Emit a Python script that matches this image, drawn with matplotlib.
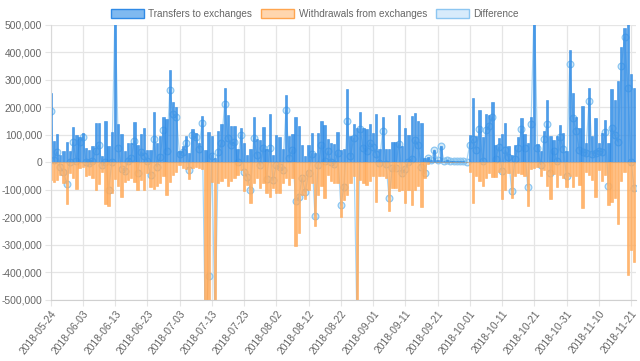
import numpy as np
import matplotlib.pyplot as plt
from matplotlib.patches import Patch
from matplotlib.ticker import FuncFormatter

plt.rcParams['font.family'] = ['Liberation Sans', 'DejaVu Sans']

# daily values in thousands
transfers = [
    252, 79, 104, 28, 42, 73, 42, 128, 100, 93,
    107, 52, 44, 61, 143, 143, 24, 152, 61, 110,
    620, 139, 103, 40, 70, 70, 147, 62, 104, 125,
    46, 44, 182, 70, 96, 167, 159, 335, 220, 201,
    40, 58, 95, 34, 121, 107, 70, 170, 44, 109,
    95, 16, 113, 140, 270, 173, 133, 131, 48, 125,
    70, 28, 48, 165, 85, 82, 128, 50, 176, 28,
    100, 94, 48, 246, 97, 104, 164, 131, 62, 25,
    62, 107, 36, 107, 149, 136, 85, 70, 68, 110,
    45, 48, 267, 95, 139, 127, 183, 127, 121, 141,
    107, 177, 50, 167, 50, 48, 73, 73, 173, 60,
    125, 100, 168, 180, 150, 145, 15, 20, 10, 45,
    8, 58, 6, 10, 6, 4, 5, 4, 5, 3,
    100, 234, 95, 189, 91, 176, 173, 218, 64, 88,
    103, 143, 58, 28, 64, 92, 161, 103, 70, 164,
    600, 67, 40, 113, 228, 95, 82, 95, 137, 107,
    40, 410, 252, 164, 125, 204, 70, 270, 95, 161,
    70, 107, 155, 70, 267, 228, 297, 418, 490, 680,
    321, 269,
]
withdrawals = [
    -65, -70, -65, -45, -75, -150, -40, -55, -95, -20,
    -15, -50, -45, -55, -100, -80, -35, -150, -160, -110,
    -60, -85, -125, -70, -65, -55, -70, -100, -65, -100,
    -40, -90, -95, -85, -75, -50, -118, -70, -45, -35,
    -10, -20, -25, -60, -20, -15, -20, -25, -650, -520,
    -70, -600, -75, -69, -57, -85, -69, -57, -45, -27,
    -105, -81, -148, -75, -57, -93, -75, -111, -124, -93,
    -111, -111, -75, -57, -81, -57, -303, -257, -118, -133,
    -99, -75, -230, -118, -87, -130, -45, -69, -75, -75,
    -200, -136, -118, -73, -51, -700, -63, -75, -81, -69,
    -51, -145, -51, -51, -57, -176, -93, -93, -105, -99,
    -148, -99, -154, -99, -87, -163, -55, -5, 0, 0,
    0, 0, 0, 0, 0, 0, 0, 0, 0, 0,
    -36, -148, -48, -69, -85, -57, -39, -53, -53, -33,
    -133, -99, -39, -130, -51, -39, -41, -51, -160, -24,
    -21, -15, -48, -29, -87, -133, -41, -90, -45, -57,
    -90, -51, -90, -51, -81, -166, -36, -45, -63, -126,
    -27, -69, -45, -154, -142, -130, -223, -68, -35, -408,
    -318, -362,
]
tick_labels = [
    '2018-05-24', '2018-06-03', '2018-06-13', '2018-06-23', '2018-07-03',
    '2018-07-13', '2018-07-23', '2018-08-02', '2018-08-12', '2018-08-22',
    '2018-09-01', '2018-09-11', '2018-09-21', '2018-10-01', '2018-10-11',
    '2018-10-21', '2018-10-31', '2018-11-10', '2018-11-21',
]

transfers = np.array(transfers) * 1000
withdrawals = np.array(withdrawals) * 1000
difference = transfers + withdrawals
x = np.arange(len(transfers))

blue = '#3a92e8'
orange = '#ffae62'
light = '#a8d5f5'

fig = plt.figure(figsize=(6.4, 3.61), dpi=100)
ax = fig.add_axes([0.079, 0.169, 0.915, 0.762])

# line sits under the bars, like the first-drawn dataset
ax.plot(x, difference, color=light, lw=0.9, marker='o', ms=4.8,
        mfc=(0.21, 0.64, 0.92, 0.22), mec='#8cc6f1', mew=0.9, zorder=1.5)
ax.bar(x, transfers, width=0.72, color=blue, edgecolor='#2a86e0', linewidth=0.4,
       alpha=0.9, zorder=2)
ax.bar(x, withdrawals, width=0.72, color=orange, edgecolor='#ffa54f', linewidth=0.4,
       alpha=0.9, zorder=2)

ax.set_xlim(0, len(x) - 0.4)
ax.set_ylim(-500000, 500000)
ax.set_yticks(np.arange(-500000, 500001, 100000))
ax.yaxis.set_major_formatter(FuncFormatter(lambda v, p: f'{int(v):,}'))
ax.set_xticks(x[::10])
ax.set_xticklabels(tick_labels, rotation=52, ha='right', rotation_mode='anchor')

ax.set_axisbelow(True)
ax.grid(True, color='#e5e5e5', linewidth=0.9)
ax.tick_params(colors='#666666', labelsize=7.4, length=4, pad=2)
ax.tick_params(axis='both', color='#e5e5e5')
for s in ['top', 'right']:
    ax.spines[s].set_visible(False)
ax.spines['left'].set_color('#d9d9d9')
ax.spines['bottom'].set_color('#d0d0d0')

handles = [
    Patch(facecolor='#7fb9f0', edgecolor='#2f8ae6', linewidth=1.0),
    Patch(facecolor='#ffd6ae', edgecolor='#ffa54f', linewidth=1.0),
    Patch(facecolor='#d7ebfb', edgecolor='#8cc6f1', linewidth=1.0),
]
fig.legend(handles, ['Transfers to exchanges', 'Withdrawals from exchanges', 'Difference'],
           loc='upper center', bbox_to_anchor=(0.492, 1.0), ncol=3, frameon=False,
           fontsize=7.2, handlelength=3.3, handleheight=1.0, columnspacing=0.9,
           handletextpad=0.45, labelcolor='#666666')

fig.savefig('out.png', dpi=100)
